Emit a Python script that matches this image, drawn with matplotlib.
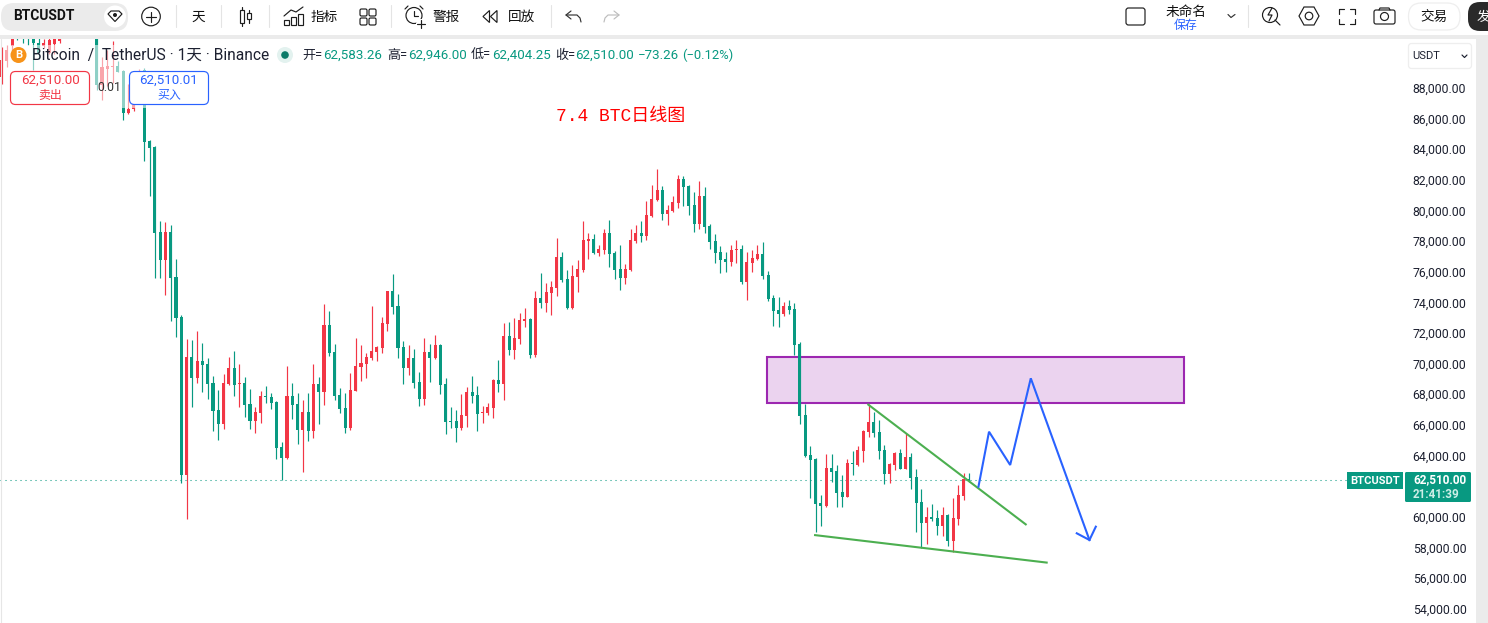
import matplotlib
matplotlib.use("Agg")
import matplotlib.pyplot as plt
from matplotlib.patches import FancyBboxPatch, Rectangle, Circle, Polygon
from matplotlib.transforms import ScaledTranslation

FAM = ['Roboto', 'Noto Sans CJK SC', 'DejaVu Sans']
plt.rcParams['font.family'] = FAM

opens = [88810,89850,90830,91700,91900,92000,91700,91050,90830,90400,90940,91160,
91400,92000,92800,92400,92000,92600,
92200,88290,89310,89440,89527,89201,86483,86722,88222,89267,
84632,84240,78694,76867,78694,75758,73148,62839,70538,69168,
70277,70081,68842,67080,66166,68776,69820,68776,68842,67471,
66362,66884,67993,67928,67602,64666,63948,67993,67471,65775,
66949,65710,68776,68254,72626,
70864,68058,67210,65905,68319,69885,70081,70472,70864,71125,
72691,74844,73865,71190,69820,70472,68906,67797,70864,70472,
71321,68776,66362,66362,65905,66688,68254,68058,66884,66884,
67210,69037,68776,71908,70994,71712,
72887,73017,70668,74387,74061,74714,75040,77063,75627,73735,
75758,76214,78107,78237,77324,77519,78629,77324,76280,75692,
76214,78107,78629,78433,79738,80782,81434,79868,80064,80586,
82152,81695,80456,79216,
81043,79085,78107,77389,76932,76736,77519,77585,75431,76671,
76932,77258,75888,74387,73604,73343,73865,73670,
71385,66752,64142,63881,61010,60814,63293,63098,61727,61401,
63620,63489,64403,65642,66295,65642,64468,62902,63489,64272,
63228,64011,62706,61075,59705,60096,60031,59509,60227,58530,
59966,61466,62583.26]
highs = [90790,90880,91900,92000,92200,92300,92100,91400,91300,91400,91500,91600,
92300,93000,93400,92900,93000,92900,
92600,90140,90572,91159,89854,89250,88331,88222,89310,89419,
84698,84280,79412,79347,79151,76933,73279,71713,71647,72235,
71452,70473,69298,68385,69429,70538,70930,70081,69233,68450,
67276,68320,68646,68189,67667,64992,69951,68842,68189,67732,
68189,70081,69233,73996,73540,
71386,68515,68189,69494,71777,71321,70799,73865,71255,73148,
74874,75953,74648,71582,71321,71060,69559,71777,71386,71973,
71386,69167,67275,67079,68123,68580,69298,68645,67340,67536,
69102,70342,72756,72821,73082,73409,
73735,73083,74844,76019,75366,75497,78302,77389,76214,76541,
76867,79412,78629,78563,77846,78890,79477,77454,77846,76606,
78890,79151,79412,80717,81761,82805,81695,80456,81043,82413,
82348,81761,81304,82022,
81630,79216,78563,77780,77389,77846,78172,77846,77389,77519,
77846,78041,76149,74583,74453,74126,74257,74061,
71515,67469,64729,63946,61532,64207,64207,63489,62837,63881,
64403,64729,65740,67469,66947,66425,64794,63620,64337,64533,
65577,64272,63228,61923,60749,60944,60553,60749,60292,61336,
62184,62967,62946.00]
lows = [88375,89480,90505,91225,91050,90875,89265,89960,90725,90290,90290,91050,
91400,91800,92200,91800,91700,91900,
87962,87310,88222,88440,89158,86004,86417,86590,87787,83350,
81044,75693,75693,74584,72887,71843,62317,59968,67276,68842,
68254,67798,65710,65122,65840,68711,67993,67276,66623,65840,
65579,66232,67537,67145,63883,62512,63883,66493,64861,63034,
65057,65253,66166,67406,70603,
67732,66884,65579,65774,68319,68972,69167,70342,70277,70799,
72234,73343,70472,68776,69363,68515,67340,67406,68906,70407,
68123,65513,65905,64991,65774,65970,67536,65709,66231,66753,
66557,68254,67732,70668,70407,71386,
72495,70472,70538,73735,73474,73278,74518,75431,73700,73670,
74779,76084,76932,77258,77128,77258,76410,75627,74909,75301,
76180,77976,78041,78172,79700,80717,79477,79151,80030,80260,
80390,79803,78694,78890,
78629,77585,76671,76019,76084,76475,76671,75301,74257,76084,
76867,75627,74192,72560,72495,73213,73343,70668,
66164,64040,61336,59117,59509,60749,62380,60749,60749,61370,
62837,63424,63685,65316,65316,63881,62249,62315,63163,63200,
63200,61923,59117,58073,58334,59835,58922,58856,58204,57812,
59574,61205,62404.25]
closes = [89920,90570,91600,91500,91600,91700,91050,90400,91050,91225,91265,91400,
92000,92800,92400,92000,92600,92200,
88288,89480,89527,89527,89158,86483,86722,87787,89049,84590,
84176,78629,76867,78694,75693,73083,62839,70538,69168,70277,
70016,68776,67015,66166,68842,69820,68711,68842,67406,66362,
66949,67993,67928,67537,64600,63948,67993,67406,65775,66949,
65710,68776,68254,72626,70799,
67993,67145,65905,68384,69950,70146,70538,70929,71190,72756,
74844,73800,71125,69820,70472,68841,67797,70864,70472,71321,
68711,66296,66296,65905,66753,68254,67993,66818,66949,67275,
69037,68776,71908,70994,71777,72952,
73017,70668,74387,74061,74779,75105,77063,75562,73735,75823,
76280,78172,78237,77324,77585,78629,77258,76214,75692,76280,
78172,78629,78433,79803,80847,81434,79868,80129,80651,82152,
81630,80390,79216,81043,
79020,78041,77324,76867,76736,77519,77585,75431,76736,76997,
77258,75823,74322,73539,73343,73865,73604,71321,
66686,64076,63815,60944,60814,63293,63032,61662,61401,63620,
63554,64468,65708,66295,65577,64403,62902,63554,64272,63228,
64011,62641,61010,59705,60096,59966,59509,60227,58530,60031,
61532,62576,62510.00]
assert len(opens) == len(highs) == len(lows) == len(closes)

price_ticks = list(range(54000, 90000, 2000))
price_labels = [f"{p:,.2f}" for p in price_ticks]
last_price = 62510.00

zone_x = [144.8, 223.7]
zone_y = [67535, 70537]
res_x = [163.8, 193.9]
res_y = [67469, 59573]
sup_x = [153.7, 197.9]
sup_y = [58920, 57112]
path_x = [184.8, 186.8, 190.8, 194.7, 205.8]
path_y = [62072, 65661, 63488, 69146, 58594]
head_x = [203.4, 205.8, 207.0]
head_y = [59031, 58594, 59462]

GREEN = '#089981'
RED = '#F23645'
BLUE = '#2962FF'
INK = '#131722'
GREY = '#EBEBEB'

W, H = 1488, 623
fig = plt.figure(figsize=(W / 100, H / 100), dpi=100, facecolor='white')

# chart pane
ax = fig.add_axes([0, 0, 1403 / W, (H - 39) / H])
STEP = 5.286
ax.set_xlim(-1.6 / STEP, (1403 - 1.6) / STEP)
ax.set_ylim(53177, 91289)
for s in ax.spines.values():
    s.set_visible(False)
ax.set_xticks([])
ax.yaxis.tick_right()
ax.set_yticks(price_ticks)
ax.set_yticklabels(price_labels, fontsize=8.8, color='#1c2030', family=FAM)
ax.tick_params(axis='y', length=0, pad=7.0)
nudge = ScaledTranslation(0, 1.6 / 72 * 0.72, fig.dpi_scale_trans)
for lab in ax.get_yticklabels():
    lab.set_transform(lab.get_transform() + nudge)

xs = list(range(len(opens)))
cols = [RED if c >= o else GREEN for o, c in zip(opens, closes)]
ax.add_patch(Rectangle((zone_x[0], zone_y[0]), zone_x[1] - zone_x[0], zone_y[1] - zone_y[0],
                       facecolor='#9C27B0', alpha=0.2, edgecolor='none', zorder=1))
ax.add_patch(Rectangle((zone_x[0], zone_y[0]), zone_x[1] - zone_x[0], zone_y[1] - zone_y[0],
                       facecolor='none', edgecolor='#9C27B0', lw=1.5, zorder=1.5))
ax.axhline(last_price, color=GREEN, lw=0.75, ls=(0, (1, 3.8)), zorder=2)
ax.vlines(xs, lows, highs, colors=cols, lw=0.85, zorder=3)
ax.bar(xs, [max(abs(c - o), 65) for o, c in zip(opens, closes)],
       bottom=[min(o, c) for o, c in zip(opens, closes)],
       width=3.1 / STEP, color=cols, linewidth=0, zorder=4)
ax.plot(res_x, res_y, color='#4CAF50', lw=1.5, zorder=5, solid_capstyle='butt')
ax.plot(sup_x, sup_y, color='#4CAF50', lw=1.5, zorder=5, solid_capstyle='butt')
ax.plot(path_x, path_y, color=BLUE, lw=1.5, zorder=6, solid_joinstyle='miter')
ax.plot(head_x, head_y, color=BLUE, lw=1.5, zorder=6, solid_joinstyle='miter')

# overlay in pixel coordinates for the application chrome
ov = fig.add_axes([0, 0, 1, 1], zorder=10)
ov.set_xlim(0, W)
ov.set_ylim(H, 0)
ov.axis('off')
ov.patch.set_alpha(0)


def T(x, y, s, size=8.7, color=INK, ha='left', va='center', weight='normal', fam=None, alpha=None):
    ov.text(x, y, s, fontsize=size, color=color, ha=ha, va=va, fontweight=weight,
            family=fam or FAM, alpha=alpha, zorder=20)


def RB(x0, y0, x1, y1, r, fc='white', ec='none', lw=1.0, z=12):
    ov.add_patch(FancyBboxPatch((x0, y0), x1 - x0, y1 - y0,
                                boxstyle=f"round,pad=0,rounding_size={r}",
                                fc=fc, ec=ec, lw=lw, zorder=z))


def L(xv, yv, color='#1d1d1d', lw=0.85, z=14):
    ov.plot(xv, yv, color=color, lw=lw, zorder=z, solid_capstyle='round')


def sep(x):
    L([x, x], [5, 27], '#e4e4e4', 0.8)


def hollow_square(x0, y0, x1, y1, r=1.5):
    RB(x0, y0, x1, y1, r, fc='none', ec='#1d1d1d', lw=0.85, z=14)


# bands and frame
ov.add_patch(Rectangle((0, 35), W, 4, fc=GREY, ec='none', zorder=11))
ov.add_patch(Rectangle((0, 0), W, 35, fc='white', ec='none', zorder=10.5))
ov.add_patch(Rectangle((1476, 35), 12, H - 35, fc=GREY, ec='none', zorder=11))
L([0.5, 0.5], [39, H], '#e6e6e6', 0.8, z=11)

# fade behind the legend block
ov.add_patch(Rectangle((5, 45), 205, 63, fc='white', alpha=0.55, ec='none', zorder=1))

# symbol pill
RB(1, 3, 128, 31, 13, fc=GREY)
T(13, 16.5, 'BTCUSDT', size=9.9, weight='bold', color='#111111')
ov.add_patch(Circle((115, 16.5), 11, fc='white', ec='none', zorder=13))
ov.add_patch(Polygon([[108, 14], [111, 11], [119, 11], [122, 14], [115, 21.5]], closed=True,
                     fc='none', ec='#1d1d1d', lw=0.85, zorder=14))
ov.add_patch(Circle((115, 15), 2, fc='#1d1d1d', ec='none', zorder=14))

# plus
ov.add_patch(Circle((151, 16.5), 9.3, fc='none', ec='#1d1d1d', lw=0.85, zorder=14))
L([146, 156], [16.5, 16.5])
L([151, 151], [11.5, 21.5])
sep(176)
T(198.5, 16.5, '天', size=9.8, ha='center', color='#111111')
sep(221)

# candle icon
L([242, 242], [7, 26])
ov.add_patch(Rectangle((240, 10), 4, 13, fc='white', ec='#1d1d1d', lw=0.85, zorder=15))
L([249, 249], [10, 23])
ov.add_patch(Rectangle((247, 13), 4, 6, fc='white', ec='#1d1d1d', lw=0.85, zorder=15))
sep(269)

# indicator icon
for bx, by in [(284, 20), (291, 17), (298, 14)]:
    ov.add_patch(Rectangle((bx, by), 5, 25 - by, fc='none', ec='#1d1d1d', lw=0.85, zorder=14))
L([284, 291, 296, 303], [16, 10, 12, 7])
T(324.5, 17, '指标', size=9.8, ha='center', color='#111111')

# layout grid
for gx, gy in [(360, 9), (369, 9), (360, 18), (369, 18)]:
    hollow_square(gx, gy, gx + 7, gy + 7)
sep(391)

# alarm
ov.add_patch(Circle((414, 15.5), 8, fc='none', ec='#1d1d1d', lw=0.85, zorder=14))
L([414, 414, 418], [11, 16, 16])
L([405, 408], [9, 6])
L([420, 423], [6, 9])
ov.add_patch(Circle((421, 24), 5, fc='white', ec='none', zorder=14.5))
L([421, 421], [20, 28], z=15)
L([417, 425], [24, 24], z=15)
T(446, 17, '警报', size=9.8, ha='center', color='#111111')

# replay
ov.add_patch(Polygon([[489.5, 10.5], [483, 16.5], [489.5, 22.5]], closed=True, fc='none', ec='#1d1d1d', lw=0.85, zorder=14))
ov.add_patch(Polygon([[497, 10.5], [490.5, 16.5], [497, 22.5]], closed=True, fc='none', ec='#1d1d1d', lw=0.85, zorder=14))
T(522, 17, '回放', size=9.8, ha='center', color='#111111')
sep(551)

# undo / redo
L([571, 566, 571], [11, 15, 19], '#333333')
L([566, 577, 580, 581], [15, 15, 18, 22], '#333333')
L([614, 619, 614], [11, 15, 19], '#bdbdbd')
L([619, 608, 605, 604], [15, 15, 18, 22], '#bdbdbd')

# right toolbar
hollow_square(1126, 8, 1145, 25, 2.5)
T(1186, 12, '未命名', size=9.8, ha='center', color='#111111')
T(1186, 26, '保存', size=8.6, ha='center', color=BLUE)
L([1228, 1231, 1235], [14.5, 17.5, 14.5], '#333333')
L([1247.5, 1247.5], [5, 27], '#e4e4e4', 0.8)
ov.add_patch(Circle((1270, 15), 7.5, fc='none', ec='#1d1d1d', lw=0.85, zorder=14))
L([1275, 1280], [20, 25])
L([1272, 1268, 1272, 1269], [8, 15, 15, 21], '#1d1d1d', 0.85)
ov.add_patch(Polygon([[1299, 16], [1304, 7], [1314, 7], [1319, 16], [1314, 25], [1304, 25]], closed=True,
                     fc='none', ec='#1d1d1d', lw=0.85, zorder=14))
ov.add_patch(Circle((1309, 16), 3.8, fc='none', ec='#1d1d1d', lw=0.85, zorder=14))
for sx, sy, dx, dy in [(1339, 8.5, 1, 1), (1355, 8.5, -1, 1), (1339, 23.5, 1, -1), (1355, 23.5, -1, -1)]:
    L([sx, sx, sx + 5 * dx], [sy + 5 * dy, sy, sy])
RB(1374, 10, 1395, 24, 2, fc='none', ec='#1d1d1d', lw=0.85, z=14)
L([1379, 1380, 1389, 1390], [10, 8, 8, 10])
ov.add_patch(Circle((1384.5, 16.5), 4, fc='none', ec='#1d1d1d', lw=0.85, zorder=14))
RB(1408.5, 3, 1460, 30, 13, fc='white', ec='#eeeeee', lw=0.9)
T(1434, 17, '交易', size=9.8, ha='center', color='#111111')
RB(1468, 2, 1500, 31, 12, fc='#2a2a2a')
T(1477, 17, '发', size=9.8, color='white')

# unit selector
RB(1408.5, 43.5, 1471.5, 68.5, 3, fc='white', ec='#eeeeee', lw=0.9)
T(1412, 56, 'USDT', size=8.0, color='#1c2030')
L([1462, 1464.5, 1467], [55, 57.5, 55], '#1c2030')

# legend
ov.add_patch(Circle((18.5, 55), 8, fc='#F7931A', ec='none', zorder=13))
T(18.5, 55, 'B', size=8, color='white', ha='center', weight='bold')
T(32, 55.5, 'Bitcoin  /  TetherUS · 1天 · Binance', size=11.2, color='#1c2030')
ov.add_patch(Circle((285, 55), 8, fc='#E3F2EF', ec='none', zorder=13))
ov.add_patch(Circle((285, 55), 3.8, fc='#0B7A68', ec='none', zorder=14))
for px, lab, vx, val in [(302, '开=', 323, '62,583.26'), (387, '高=', 408, '62,946.00'),
                         (471, '低=', 492, '62,404.25'), (555, '收=', 575, '62,510.00')]:
    T(px, 55.5, lab, size=9.4, color='#1c2030')
    T(vx, 55.5, val, size=9.6, color=GREEN)
T(638, 55.5, '−73.26', size=9.6, color=GREEN)
T(682, 55.5, '(−0.12%)', size=9.4, color=GREEN)

# order buttons
RB(10.5, 71.5, 89.5, 104.5, 5, fc='white', ec=RED, lw=0.85)
T(50, 80.5, '62,510.00', size=9.6, color=RED, ha='center')
T(50, 95, '卖出', size=8.6, color=RED, ha='center')
RB(129.5, 71.5, 208.5, 104.5, 5, fc='white', ec=BLUE, lw=0.85)
T(169, 80.5, '62,510.01', size=9.6, color=BLUE, ha='center')
T(169, 95, '买入', size=8.6, color=BLUE, ha='center')
T(109.5, 87.5, '0.01', size=8.8, color='#333333', ha='center')

# chart title
T(621, 116, '7.4 BTC日线图', size=13, color='#FF0000', ha='center',
  fam=['Liberation Mono', 'Noto Sans CJK SC'])

# price label
ov.add_patch(Rectangle((1347, 472), 56, 17, fc=GREEN, ec='none', zorder=12))
T(1375, 480.5, 'BTCUSDT', size=8, color='white', ha='center', weight='bold')
RB(1405, 472, 1471, 502, 1.5, fc=GREEN)
T(1413, 479.5, '62,510.00', size=8.5, color='white', weight='bold')
T(1413, 494, '21:41:39', size=8.4, color='#cdeee7', weight='bold')

fig.savefig('out.png', dpi=100)
